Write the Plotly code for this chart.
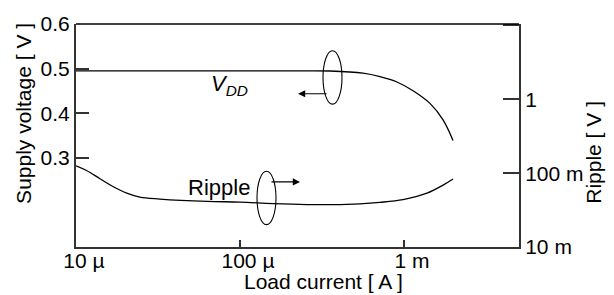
import plotly.graph_objects as go

# ---- data ----
vdd_current = [1e-5, 2.82e-5, 1e-4, 2.32e-4, 3.54e-4, 5.62e-4, 7.14e-4, 9.06e-4,
               1.135e-3, 1.44e-3, 1.73e-3, 1.99e-3]
vdd_values = [0.495, 0.495, 0.495, 0.495, 0.4946, 0.4897, 0.482, 0.470,
              0.4504, 0.422, 0.385, 0.339]

ripple_current = [1e-5, 1.16e-5, 1.40e-5, 1.69e-5, 2.04e-5, 2.45e-5, 3.25e-5, 6.29e-5,
                  1.0e-4, 1.59e-4, 2.56e-4, 4.07e-4, 7.14e-4, 9.86e-4, 1.38e-3,
                  1.73e-3, 1.99e-3]
ripple_values = [0.126, 0.1087, 0.0841, 0.0654, 0.0535, 0.0473, 0.0446, 0.0415,
                 0.0406, 0.0387, 0.0376, 0.0376, 0.0403, 0.0437, 0.0535,
                 0.0689, 0.0834]

x_tickvals = [1e-5, 1e-4, 1e-3]
x_ticktext = ["10 µ", "100 µ", "1 m"]
y_tickvals = [0.3, 0.4, 0.5, 0.6]
y2_tickvals = [0.01, 0.1, 1, 10]
y2_ticktext = ["10 m", "100 m", "1", ""]

W, H = 614, 295
L, R, T, B = 76, 519, 17.5, 247


def px(x):
    return (x - L) / (R - L)


def py(y):
    return (B - y) / (B - T)


FONT = "Liberation Sans, Arial, sans-serif"
fig = go.Figure()
fig.add_trace(go.Scatter(x=vdd_current, y=vdd_values, mode="lines",
                         line=dict(color="black", width=1.3, shape="spline"),
                         yaxis="y", showlegend=False, hoverinfo="skip"))
fig.add_trace(go.Scatter(x=ripple_current, y=ripple_values, mode="lines",
                         line=dict(color="black", width=1.3, shape="spline"),
                         yaxis="y2", showlegend=False, hoverinfo="skip"))

axis_common = dict(showgrid=False, zeroline=False, ticks="inside",
                   tickfont=dict(family=FONT, size=21, color="black"),
                   linecolor="#333", linewidth=2, tickcolor="#333", tickwidth=1.5)


def label(text, x, y, size=21, angle=0):
    return dict(text=text, xref="paper", yref="paper", x=px(x), y=py(y),
                xanchor="center", yanchor="middle", textangle=angle,
                showarrow=False, font=dict(family=FONT, size=size, color="black"))


def arrow(x_head, y, dx):
    return dict(text="", xref="paper", yref="paper", x=px(x_head), y=py(y),
                ax=dx, ay=0, axref="pixel", ayref="pixel",
                showarrow=True, arrowhead=2, arrowsize=1.2, arrowwidth=1.2,
                arrowcolor="black")


fig.update_layout(
    width=W, height=H,
    margin=dict(l=L, r=W - R, t=T, b=H - B, pad=0),
    plot_bgcolor="white", paper_bgcolor="white",
    xaxis=dict(type="log", range=[-5, -5 + (R - L) / 164.0],
               tickvals=x_tickvals, ticktext=x_ticktext, ticklen=7,
               ticklabelstandoff=-6, ticklabelshift=8,
               **axis_common),
    yaxis=dict(range=[0.1, 0.6], tickvals=y_tickvals, ticklen=13,
               tickformat=".1f", **axis_common),
    yaxis2=dict(type="log", range=[-2, 1.02], overlaying="y", side="right",
                tickvals=y2_tickvals, ticktext=y2_ticktext, ticklen=16,
                **axis_common),
    shapes=[
        dict(type="line", xref="paper", yref="paper", x0=0, x1=1, y0=1, y1=1,
             line=dict(color="black", width=1.3)),
        dict(type="circle", xref="paper", yref="paper",
             x0=px(323), x1=px(342), y0=py(100), y1=py(45),
             line=dict(color="black", width=1.1)),
        dict(type="circle", xref="paper", yref="paper",
             x0=px(257), x1=px(276), y0=py(224), y1=py(169),
             line=dict(color="black", width=1.1)),
    ],
    annotations=[
        label("<i>V<sub>DD</sub></i>", 229, 80, size=22),
        label("Ripple", 219, 186, size=22),
        arrow(298, 89.3, 30),
        arrow(300, 180, -30),
        label("Supply voltage [ V ]", 24, 110, angle=-90),
        label("Ripple [ V ]", 594, 150, angle=-90),
        label("Load current [ A ]", 323, 282),
    ],
)

fig.write_html("out.html", config={"displayModeBar": False},
               post_script="document.body.style.margin='0';document.body.style.padding='0';")
